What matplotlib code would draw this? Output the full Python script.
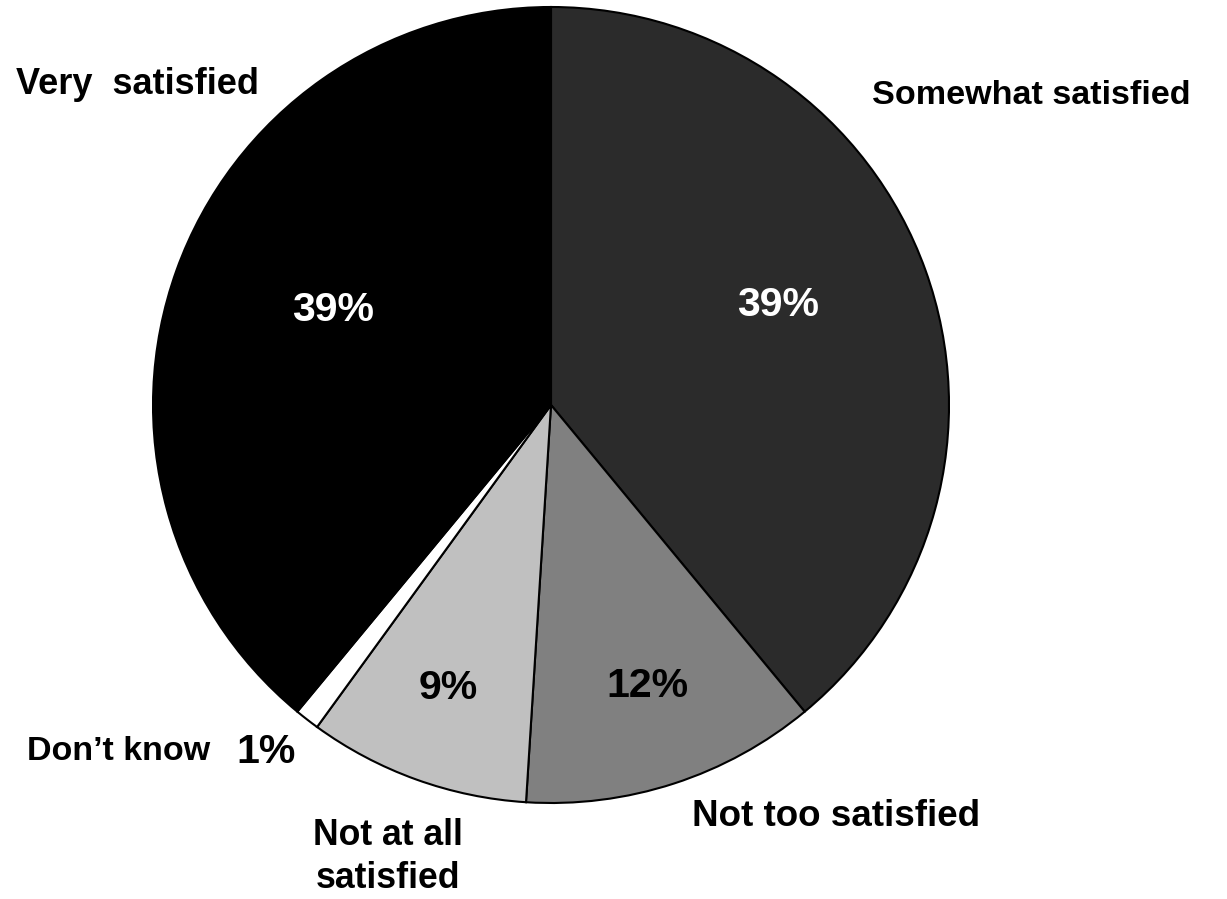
import matplotlib
matplotlib.use("Agg")
import matplotlib.pyplot as plt

# survey answers, clockwise from 12 o'clock
answers = ["Somewhat satisfied", "Not too satisfied", "Not at all\nsatisfied",
           "Don\u2019t know", "Very  satisfied"]
shares = [39, 12, 9, 1, 39]
fills = ["#2b2b2b", "#808080", "#c0c0c0", "#ffffff", "#000000"]
pct_colors = ["white", "black", "black", "black", "white"]

W, H = 1227, 899
plt.rcParams["font.family"] = ["Liberation Sans", "DejaVu Sans"]
plt.rcParams["font.weight"] = "bold"

fig = plt.figure(figsize=(W / 100, H / 100), dpi=100)
ax = fig.add_axes([0, 0, 1, 1])

ax.pie(shares, colors=fills, startangle=90, counterclock=False,
       center=(551, H - 405), radius=398,
       wedgeprops=dict(edgecolor="black", linewidth=1.5))

# pie() resets the limits, so set them afterwards
ax.set_xlim(0, W)
ax.set_ylim(0, H)
ax.set_aspect("equal")
ax.axis("off")

# label spots (pixel coords, y from top)
name_pos = [(1031, 96), (836, 816), (388, 857), (119, 752), (137, 84)]
name_size = [24.6, 26.5, 25.7, 24.5, 26]
pct_pos = [(778, 305), (647, 686), (448, 688), (266, 752), (333, 310)]

for name, share, (nx, ny), fs, (px, py), c in zip(answers, shares, name_pos,
                                                   name_size, pct_pos,
                                                   pct_colors):
    ax.text(nx, H - ny, name, fontsize=fs, fontweight="bold",
            ha="center", va="center", linespacing=1.33)
    ax.text(px, H - py, f"{share}%", fontsize=29.5, fontweight="bold",
            ha="center", va="center", color=c)

fig.savefig("out.png", dpi=100)
